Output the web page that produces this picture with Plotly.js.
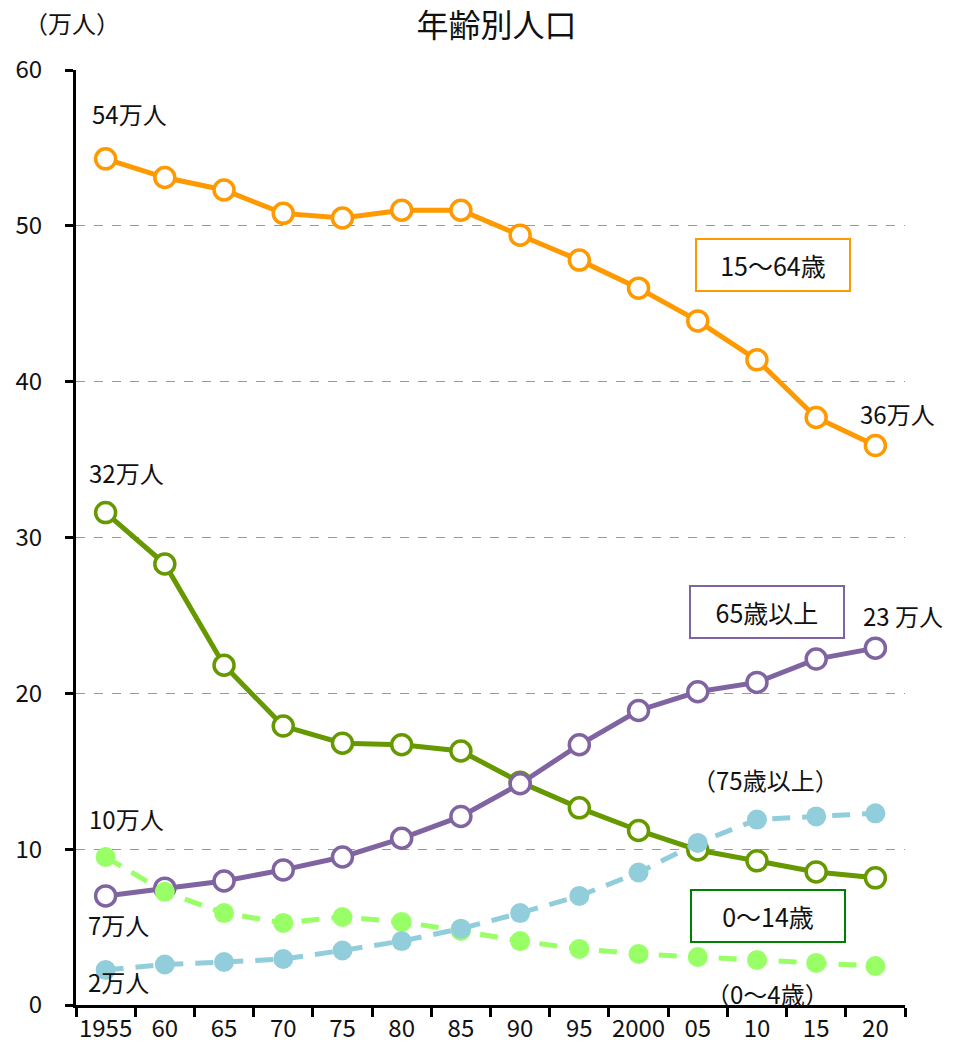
<!DOCTYPE html>
<html><head><meta charset="utf-8">
<script src="https://cdn.plot.ly/plotly-3.0.1.min.js"></script>
<style>body{margin:0;background:#fff}#c{width:955px;height:1055px}</style>
</head><body><div id="c"></div>
<script>
const years = ["1955","60","65","70","75","80","85","90","95","2000","05","10","15","20"];
const age15_64 = [54.3,53.1,52.3,50.8,50.5,51.0,51.0,49.4,47.8,46.0,43.9,41.4,37.7,35.9];
const age0_14  = [31.6,28.3,21.8,17.9,16.8,16.7,16.3,14.3,12.65,11.2,9.95,9.25,8.54,8.16];
const age65up  = [7.0,7.5,7.96,8.67,9.5,10.7,12.1,14.2,16.7,18.9,20.1,20.7,22.2,22.9];
const age75up  = [2.25,2.6,2.76,2.95,3.5,4.1,4.9,5.9,7.0,8.5,10.4,11.9,12.1,12.3];
const age0_4   = [9.5,7.26,5.9,5.27,5.65,5.33,4.75,4.1,3.6,3.28,3.08,2.89,2.7,2.5];

const F = "'Noto Sans CJK JP', 'Noto Sans', sans-serif";
const LS = 24;
function openLine(y, c){return {x:years,y:y,type:'scatter',mode:'lines+markers',
  line:{color:c,width:5},marker:{size:20,color:'#fff',line:{color:c,width:3.5}},cliponaxis:false,hoverinfo:'skip'};}
function dashLine(y, c){return {x:years,y:y,type:'scatter',mode:'lines+markers',
  line:{color:c,width:5,dash:'18px,12px'},marker:{size:20,color:c},cliponaxis:false,hoverinfo:'skip'};}

const data = [openLine(age15_64,'#FF9900'), openLine(age0_14,'#669900'), openLine(age65up,'#8064A2'),
  dashLine(age0_4,'#99FF66'), dashLine(age75up,'#92CDDC')];

function lab(x,y,t){return {x:x,y:y,xref:'x',yref:'y',text:t,showarrow:false,font:{family:F,size:LS,color:'#111'}};}
function box(x,y,t,c){return {x:x,y:y,xref:'x',yref:'y',text:t,showarrow:false,font:{family:F,size:25,color:'#111'},
  bordercolor:c,borderwidth:2,width:150,height:48,bgcolor:'rgba(255,255,255,0)'};}

const annotations = [
  lab(0.41,57.2,'54万人'), lab(13.38,37.96,'36万人'), lab(0.36,34.2,'32万人'),
  lab(13.47,25.0,'23 万人'), lab(11.14,14.5,'（75歳以上）'), lab(13.59,14.5,'12 万人'),
  lab(0.36,12.0,'10万人'), lab(13.55,9.38,'8万人'), lab(0.21,5.14,'7万人'),
  lab(13.62,4.3,'2 万人'), lab(0.21,1.48,'2万人'), lab(11.17,0.77,'（0～4歳）'),
  box(11.27,47.5,'15～64歳','#FF9900'), box(11.17,25.2,'65歳以上','#8064A2'), box(11.19,5.72,'0～14歳','#008000'),
  {xref:'paper',yref:'paper',x:(72-76)/829,y:(1005-22)/935,text:'（万人）',showarrow:false,
    font:{family:F,size:LS,color:'#111'},xanchor:'center',yanchor:'middle'}
];

const layout = {
  width:955,height:1055,margin:{l:76,r:50,t:70,b:50},
  paper_bgcolor:'#fff',plot_bgcolor:'#fff',showlegend:false,
  title:{text:'年齢別人口',font:{family:F,size:32,color:'#111'},x:0.52,xanchor:'center',y:1-26/1055,yanchor:'middle'},
  xaxis:{type:'category',range:[-0.5,13.5],tickson:'boundaries',ticks:'outside',ticklen:9,tickwidth:3,tickcolor:'#000',
    showline:true,linecolor:'#000',linewidth:3,showgrid:false,zeroline:false,tickangle:0,
    tickfont:{family:F,size:24,color:'#111'},fixedrange:true},
  yaxis:{range:[0,60],tickvals:[0,10,20,30,40,50,60],ticks:'outside',ticklen:8,tickwidth:3,tickcolor:'#000',
    showline:true,linecolor:'#000',linewidth:3,showgrid:true,gridcolor:'#999',griddash:'dash',gridwidth:1.2,zeroline:false,
    tickfont:{family:F,size:24,color:'#111'},ticklabelstandoff:18,fixedrange:true},
  annotations:annotations
};
Plotly.newPlot('c',data,layout,{staticPlot:true});
</script></body></html>
